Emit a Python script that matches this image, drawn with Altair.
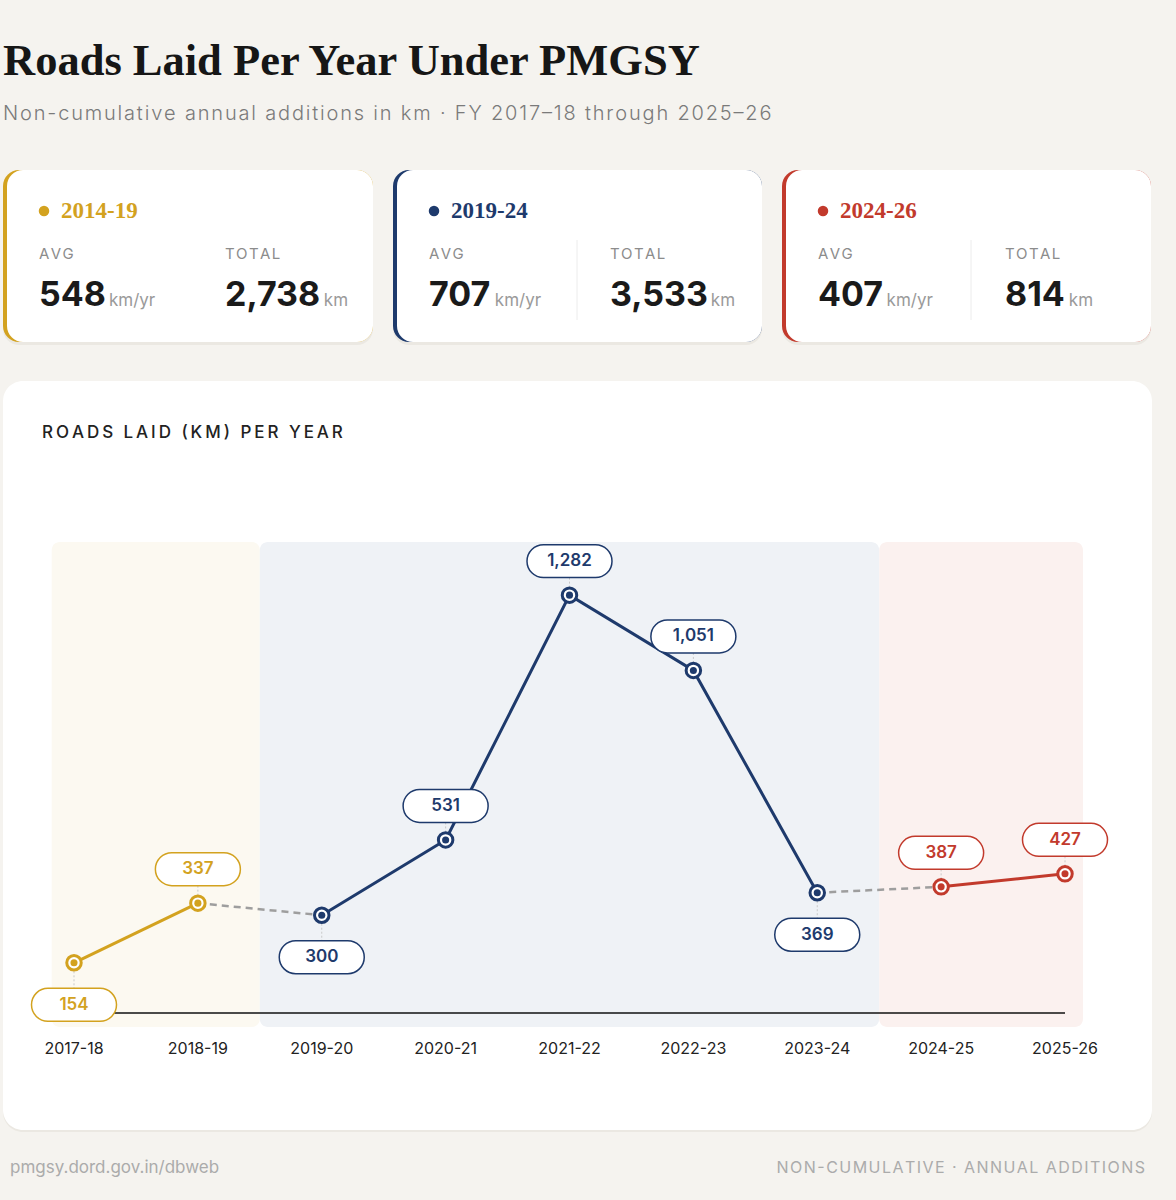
import altair as alt
import pandas as pd

# ---------------- data ----------------
years = ["2017-18", "2018-19", "2019-20", "2020-21", "2021-22",
         "2022-23", "2023-24", "2024-25", "2025-26"]
km = [154, 337, 300, 531, 1282, 1051, 369, 387, 427]
year_period = ["2014-19", "2014-19", "2019-24", "2019-24", "2019-24",
               "2019-24", "2019-24", "2024-26", "2024-26"]
periods = ["2014-19", "2019-24", "2024-26"]
period_avg = [548, 707, 407]
period_total = [2738, 3533, 814]

# ---------------- styles ----------------
BG = "#f5f3ef"
COLORS = ["#d3a21f", "#1e3a6c", "#c23a2c"]
BAND_COLORS = ["#fcf9f1", "#eff2f6", "#fbf1ef"]
SANS = "Inter"
SERIF = "Liberation Serif"
W, H = 1176, 1200
THIN = "\u2009"
HAIR = "\u200a"

def spaced(s, sp):
    return sp.join(list(s))

# pixel layout of plot region
X_RANGE = [74, 1065]
Y_RANGE = [1013, 542]
Y_MAX = 1445

xs = alt.Scale(domain=[0, len(years) - 1], range=X_RANGE, nice=False, zero=False)
ys = alt.Scale(domain=[0, Y_MAX], range=Y_RANGE, nice=False, zero=False)
cs = alt.Scale(domain=periods, range=COLORS)

pts = pd.DataFrame({"idx": list(range(len(years))), "year": years, "km": km,
                    "period": year_period})
# label placement: below when local minimum
below = []
for i, v in enumerate(km):
    nb = [km[j] for j in (i - 1, i + 1) if 0 <= j < len(km)]
    below.append(all(v < n for n in nb))
pts["below"] = below

# connectors between periods
conn_rows = []
for i in range(len(years) - 1):
    if year_period[i] != year_period[i + 1]:
        conn_rows.append({"cid": i, "idx": i, "km": km[i]})
        conn_rows.append({"cid": i, "idx": i + 1, "km": km[i + 1]})
conn = pd.DataFrame(conn_rows)

# bands
band_rows = []
for p, bc in zip(periods, BAND_COLORS):
    ids = [i for i, yp in enumerate(year_period) if yp == p]
    x0 = ids[0] - (0.18 if ids[0] == 0 else 0.5)
    x1 = ids[-1] + (0.145 if ids[-1] == len(years) - 1 else 0.5)
    band_rows.append({"x0": x0, "x1": x1, "fill": bc})
bands = pd.DataFrame(band_rows)

X = lambda f="idx": alt.X(f"{f}:Q", scale=xs, axis=None)
Y = lambda f="km": alt.Y(f"{f}:Q", scale=ys, axis=None)
C = alt.Color("period:N", scale=cs, legend=None)

one = pd.DataFrame({"a": [0]})

def pix(df):
    return alt.Chart(df)

# ---------------- decoration: header ----------------
title = alt.Chart(one).mark_text(
    text="Roads Laid Per Year Under PMGSY", font=SERIF, fontWeight="bold",
    fontSize=44.5, align="left", baseline="alphabetic", color="#161616"
).encode(x=alt.value(3), y=alt.value(75))

subtitle = alt.Chart(one).mark_text(
    text=spaced("Non-cumulative annual additions in km · FY 2017–18 through 2025–26", HAIR),
    font=SANS, fontSize=20, fontWeight=300, align="left", baseline="middle", color="#7a7a7a"
).encode(x=alt.value(3), y=alt.value(114))

# ---------------- cards ----------------
card_x0 = [3, 393, 782]
card_x1 = [373, 762, 1151]
total_x = [225, 610, 1005]
divider_x = [None, 577, 971]

CHAR_W = {"0": .64, "1": .43, "2": .6, "3": .62, "4": .64, "5": .61, "6": .63,
          "7": .56, "8": .63, "9": .63, ",": .32}

def num_width(s, size):
    return sum(CHAR_W.get(ch, .62) for ch in s) * size

card_rows = []
for k, p in enumerate(periods):
    a = f"{period_avg[k]:,}"
    t = f"{period_total[k]:,}"
    card_rows.append({
        "x0": card_x0[k], "x1": card_x1[k], "xin": card_x0[k] + 4,
        "y0": 170, "y1": 342, "ys0": 172, "ys1": 345,
        "color": COLORS[k], "head": p,
        "dotx": card_x0[k] + 41, "headx": card_x0[k] + 58,
        "lblx": card_x0[k] + 36, "totx": total_x[k],
        "avg": a, "tot": t,
        "avgu": card_x0[k] + 36 + num_width(a, 34) + 6,
        "totu": total_x[k] + num_width(t, 34) + 6,
    })
cards = pd.DataFrame(card_rows)
divs = pd.DataFrame([{"x": d} for d in divider_x if d is not None])

PX = lambda f: alt.X(f"{f}:Q", scale=None, axis=None)
PX2 = lambda f: alt.X2(f"{f}:Q")
PY = lambda f: alt.Y(f"{f}:Q", scale=None, axis=None)
PY2 = lambda f: alt.Y2(f"{f}:Q")
PC = alt.Color("color:N", scale=None, legend=None)

card_shadow = pix(cards).mark_rect(cornerRadius=16, color="#ebe8e2").encode(
    x=PX("x0"), x2=PX2("x1"), y=PY("ys0"), y2=PY2("ys1"))
card_edge = pix(cards).mark_rect(cornerRadius=16).encode(
    x=PX("x0"), x2=PX2("x1"), y=PY("y0"), y2=PY2("y1"), color=PC)
card_body = pix(cards).mark_rect(cornerRadius=16, color="white").encode(
    x=PX("xin"), x2=PX2("x1"), y=PY("y0"), y2=PY2("y1"))
card_dot = pix(cards).mark_circle(size=110, opacity=1).encode(
    x=PX("dotx"), y=alt.value(211), color=PC)
card_head = pix(cards).mark_text(font=SERIF, fontWeight="bold", fontSize=23,
                                 align="left", baseline="middle").encode(
    x=PX("headx"), y=alt.value(211), text="head:N", color=PC)
card_avg_lbl = pix(cards).mark_text(text=spaced("AVG", HAIR), font=SANS, fontSize=15,
                                    align="left", baseline="middle", color="#8c8c8c").encode(
    x=PX("lblx"), y=alt.value(254))
card_tot_lbl = pix(cards).mark_text(text=spaced("TOTAL", HAIR), font=SANS, fontSize=15,
                                    align="left", baseline="middle", color="#8c8c8c").encode(
    x=PX("totx"), y=alt.value(254))
card_avg = pix(cards).mark_text(font=SANS, fontSize=34, fontWeight="bold", align="left",
                                baseline="alphabetic", color="#1a1a1a").encode(
    x=PX("lblx"), y=alt.value(306), text="avg:N")
card_tot = pix(cards).mark_text(font=SANS, fontSize=34, fontWeight="bold", align="left",
                                baseline="alphabetic", color="#1a1a1a").encode(
    x=PX("totx"), y=alt.value(306), text="tot:N")
card_avg_u = pix(cards).mark_text(text="km/yr", font=SANS, fontSize=17, align="left",
                                  baseline="alphabetic", color="#9a9a9a").encode(
    x=PX("avgu"), y=alt.value(306))
card_tot_u = pix(cards).mark_text(text="km", font=SANS, fontSize=17, align="left",
                                  baseline="alphabetic", color="#9a9a9a").encode(
    x=PX("totu"), y=alt.value(306))
card_div = pix(divs).mark_rule(color="#ececec", strokeWidth=1).encode(
    x=PX("x"), y=alt.value(240), y2=alt.value(320))

# ---------------- main panel ----------------
panel_shadow = alt.Chart(one).mark_rect(cornerRadius=20, color="#ebe8e2").encode(
    x=alt.value(3), x2=alt.value(1152), y=alt.value(383), y2=alt.value(1132))
panel = alt.Chart(one).mark_rect(cornerRadius=20, color="white").encode(
    x=alt.value(3), x2=alt.value(1152), y=alt.value(381), y2=alt.value(1130))
panel_title = alt.Chart(one).mark_text(
    text=spaced("ROADS LAID (KM) PER YEAR", THIN), font=SANS, fontSize=17, fontWeight=500,
    align="left", baseline="middle", color="#222222"
).encode(x=alt.value(42), y=alt.value(433))

band_layer = alt.Chart(bands).mark_rect(cornerRadius=8).encode(
    x=X("x0"), x2=alt.X2("x1:Q"), y=alt.value(542), y2=alt.value(1027),
    color=alt.Color("fill:N", scale=None, legend=None))

baseline = alt.Chart(pd.DataFrame({"x0": [0], "x1": [len(years) - 1], "z": [0]})).mark_rule(
    color="#111111", strokeWidth=1.6).encode(x=X("x0"), x2=alt.X2("x1:Q"), y=Y("z"))

xlabels = alt.Chart(pts).mark_text(font=SANS, fontSize=16, color="#222222",
                                   baseline="middle", align="center").encode(
    x=X(), y=alt.value(1049), text="year:N")

conn_layer = alt.Chart(conn).mark_line(color="#9e9e9e", strokeWidth=2.5,
                                       strokeDash=[7, 5]).encode(
    x=X(), y=Y(), detail="cid:N")

lines = alt.Chart(pts).mark_line(strokeWidth=3).encode(x=X(), y=Y(), color=C)

LINE_PATH = "M0,-1L0,1"
leader_below = alt.Chart(pts).transform_filter("datum.below").mark_point(
    shape=LINE_PATH, size=289, yOffset=17, stroke="#c9c9c9", strokeWidth=1,
    strokeDash=[2, 2], filled=False, opacity=1).encode(x=X(), y=Y())
leader_above = alt.Chart(pts).transform_filter("!datum.below").mark_point(
    shape=LINE_PATH, size=81, yOffset=-13, stroke="#c9c9c9", strokeWidth=1,
    strokeDash=[2, 2], filled=False, opacity=1).encode(x=X(), y=Y())

PILL = ("M-0.612,-0.388L0.612,-0.388A0.388,0.388 0 0 1 0.612,0.388"
        "L-0.612,0.388A0.388,0.388 0 0 1 -0.612,-0.388Z")

def pill(flt, off):
    return alt.Chart(pts).transform_filter(flt).mark_point(
        shape=PILL, size=85 * 85, yOffset=off, fill="white", fillOpacity=1,
        strokeWidth=1.5, filled=False, opacity=1).encode(
        x=X(), y=Y(), stroke=alt.Stroke("period:N", scale=cs, legend=None))

def ptxt(flt, off):
    return alt.Chart(pts).transform_filter(flt).mark_text(
        font=SANS, fontSize=17, fontWeight=600, baseline="middle", align="center",
        yOffset=off).encode(x=X(), y=Y(), text=alt.Text("km:Q", format=","), color=C)

outer = alt.Chart(pts).mark_point(size=210, filled=False, fill="white", fillOpacity=1,
                                  strokeWidth=3, opacity=1).encode(
    x=X(), y=Y(), stroke=alt.Stroke("period:N", scale=cs, legend=None))
inner = alt.Chart(pts).mark_circle(size=50, opacity=1).encode(x=X(), y=Y(), color=C)

footer_l = alt.Chart(one).mark_text(
    text="pmgsy.dord.gov.in/dbweb", font=SANS, fontSize=17, align="left",
    baseline="middle", color="#ababab").encode(x=alt.value(10), y=alt.value(1168))
footer_r = alt.Chart(one).mark_text(
    text=spaced("NON-CUMULATIVE · ANNUAL ADDITIONS", HAIR), font=SANS, fontSize=16,
    align="right", baseline="middle", color="#ababab").encode(x=alt.value(1145), y=alt.value(1168))

chart = alt.layer(
    title, subtitle,
    card_shadow, card_edge, card_body, card_dot, card_head, card_avg_lbl, card_tot_lbl,
    card_avg, card_tot, card_avg_u, card_tot_u, card_div,
    panel_shadow, panel, panel_title,
    band_layer, baseline, xlabels, conn_layer, lines,
    leader_below, leader_above,
    pill("datum.below", 42), pill("!datum.below", -34),
    ptxt("datum.below", 42), ptxt("!datum.below", -34),
    outer, inner,
    footer_l, footer_r,
).resolve_scale(
    x="independent", y="independent", color="independent", stroke="independent"
).properties(
    width=W, height=H, background=BG, padding=0,
    autosize=alt.AutoSizeParams(type="none"),
).configure_view(stroke=None)

chart.save("out.html", embed_options={"renderer": "svg", "actions": False})
